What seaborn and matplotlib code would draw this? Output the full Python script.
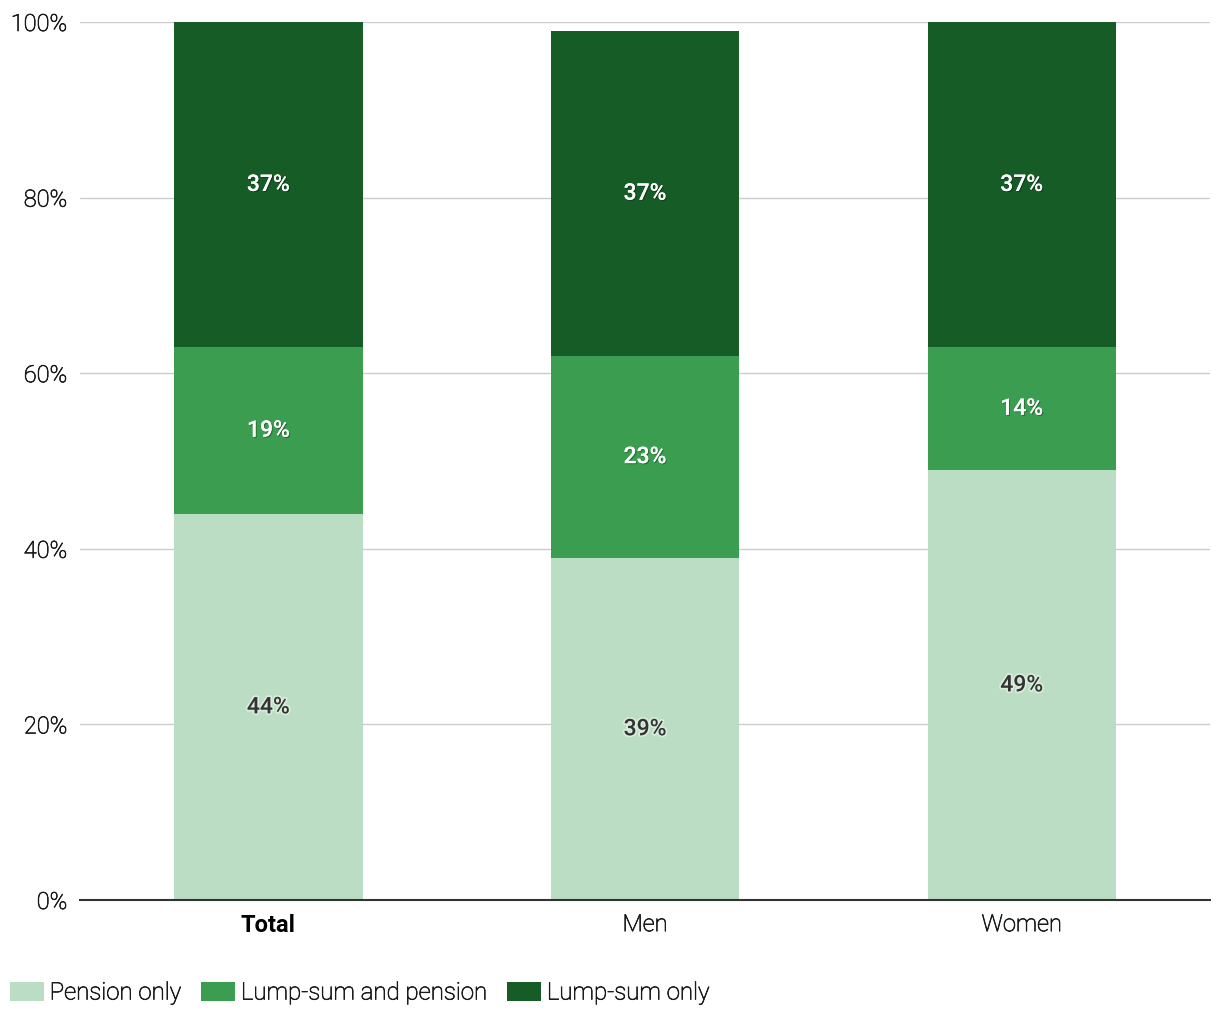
import pandas as pd
import seaborn as sns
import matplotlib.pyplot as plt
import matplotlib.patheffects as pe
from matplotlib.patches import Patch

# Dados
grupos = ["Total", "Men", "Women"]
pension_only = [44, 39, 49]
lump_and_pension = [19, 23, 14]
lump_only = [37, 37, 37]

series = ["Pension only", "Lump-sum and pension", "Lump-sum only"]
cores = ["#bbddc3", "#3a9d4f", "#165c26"]

df = pd.DataFrame({
    "Grupo": grupos,
    "Pension only": pension_only,
    "Lump-sum and pension": lump_and_pension,
    "Lump-sum only": lump_only,
})
# Acumulados para empilhar (desenhar do maior para o menor)
df["c1"] = df["Pension only"]
df["c2"] = df["c1"] + df["Lump-sum and pension"]
df["c3"] = df["c2"] + df["Lump-sum only"]

sns.set_style("white")
plt.rcParams["font.family"] = ["Roboto", "DejaVu Sans"]

fig = plt.figure(figsize=(12.2, 10.2), dpi=100)
ax = fig.add_axes([80 / 1220, 119 / 1020, 1130 / 1220, 878 / 1020])

for col, cor in zip(["c3", "c2", "c1"], cores[::-1]):
    sns.barplot(data=df, x="Grupo", y=col, color=cor, width=0.5,
                saturation=1, linewidth=0, ax=ax, zorder=3)

# Rótulos dos segmentos
for i in range(len(grupos)):
    base = 0
    for s, cor_txt in zip(series, ["#333333", "white", "white"]):
        v = df.loc[i, s]
        if cor_txt == "white":
            efeito = [pe.withSimplePatchShadow(offset=(0.8, -0.8), shadow_rgbFace="black", alpha=0.3), pe.Normal()]
        else:
            efeito = [pe.withStroke(linewidth=2.5, foreground="#e6f3e9", alpha=0.7)]
        ax.text(i, base + v / 2, f"{v}%", ha="center", va="center", fontsize=16.5,
                fontweight="medium", color=cor_txt, zorder=5, path_effects=efeito)
        base += v

# traço fino para escurecer o texto light
reforco = [pe.withStroke(linewidth=0.5, foreground="#1a1a1a")]

ax.set_xlim(-0.5, 2.5)
ax.set_ylim(0, 100)
ax.set_yticks([0, 20, 40, 60, 80, 100])
ax.set_yticklabels([f"{t}%" for t in [0, 20, 40, 60, 80, 100]], fontsize=17,
                   fontweight="light", color="#1a1a1a")
ax.set_xlabel("")
ax.set_ylabel("")
ax.set_xticks(range(3))
ax.set_xticklabels(grupos, fontsize=17, fontweight="light", color="#1a1a1a")
ax.get_xticklabels()[0].set_fontweight("bold")
ax.get_xticklabels()[0].set_color("black")
for t in ax.get_yticklabels() + ax.get_xticklabels()[1:]:
    t.set_path_effects(reforco)
ax.tick_params(axis="both", length=0)
ax.tick_params(axis="x", pad=9.5)
ax.tick_params(axis="y", pad=9)
ax.grid(axis="y", color="#cccccc", linewidth=1, zorder=0)
ax.set_axisbelow(True)
for lado in ["left", "right", "top"]:
    ax.spines[lado].set_visible(False)
ax.spines["bottom"].set_color("#333333")
ax.spines["bottom"].set_linewidth(1.5)
ax.spines["bottom"].set_zorder(6)

handles = [Patch(facecolor=c, edgecolor="none", label=s) for s, c in zip(series, cores)]
leg = fig.legend(handles=handles, loc="center left", bbox_to_anchor=(10 / 1220, 26 / 1020), ncol=3,
                 frameon=False, handlelength=1.4, handleheight=0.82, borderpad=0, borderaxespad=0,
                 handletextpad=0.25, columnspacing=0.85, prop={"weight": "light", "size": 17.3})
for t in leg.get_texts():
    t.set_color("#1a1a1a")
    t.set_path_effects(reforco)

plt.savefig("out.png", dpi=100)
